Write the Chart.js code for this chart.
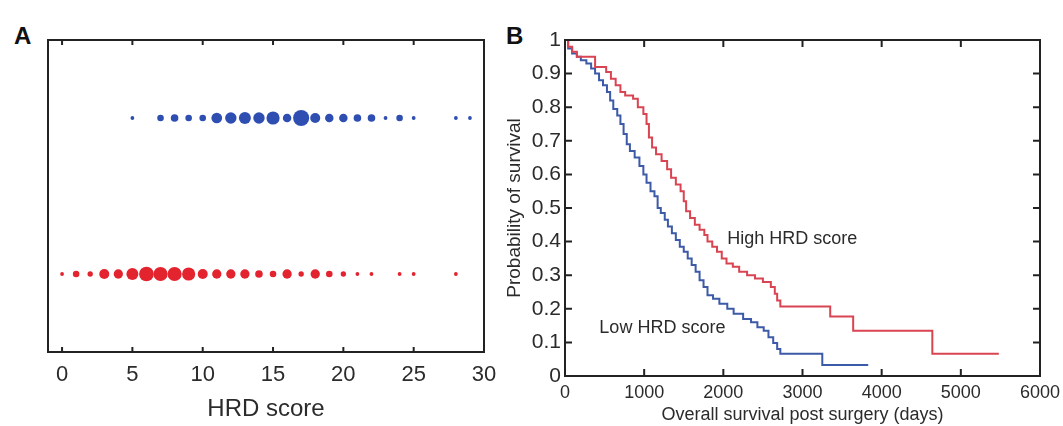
<!DOCTYPE html>
<html>
<head>
<meta charset="utf-8">
<title>HRD score</title>
<script src="https://cdn.jsdelivr.net/npm/chart.js@4.4.1/dist/chart.umd.min.js"></script>
<style>
  body { margin: 0; background: #fff; width: 1063px; height: 426px; position: relative; overflow: hidden;
         font-family: "Liberation Sans", Arial, Helvetica, sans-serif; }
  canvas { position: absolute; top: 0; }
  #chartA { left: 0; }
  #chartB { left: 500px; }
  .panel { position: absolute; top: 24px; font-weight: bold; font-size: 24px; line-height: 1; color: #111; }
</style>
</head>
<body>
<div class="panel" style="left:14px">A</div>
<div class="panel" style="left:506px">B</div>
<canvas id="chartA" width="500" height="426"></canvas>
<canvas id="chartB" width="563" height="426"></canvas>
<script>
// Panel A - HRD score distribution (bubble size ~ number of samples)
const topScores = [5, 7, 8, 9, 10, 11, 12, 13, 14, 15, 16, 17, 18, 19, 20, 21, 22, 23, 24, 25, 28, 29];
const topCounts = [1, 3, 4, 3, 3, 8, 9, 10, 9, 12, 5, 18, 7, 5, 5, 4, 4, 1, 3, 1, 1, 1];
const bottomScores = [0, 1, 2, 3, 4, 5, 6, 7, 8, 9, 10, 11, 12, 13, 14, 15, 16, 17, 18, 19, 20, 21, 22, 24, 25, 28];
const bottomCounts = [1, 3, 2, 7, 6, 10, 15, 14, 14, 12, 7, 6, 6, 6, 4, 3, 6, 2, 6, 3, 2, 1, 1, 1, 1, 1];
const hrdTicks = [0, 5, 10, 15, 20, 25, 30];

// Panel B - Kaplan-Meier curves (days, survival probability)
const highDays = [0, 40, 90, 150, 380, 520, 580, 640, 700, 760, 860, 920, 990, 1030, 1060, 1100, 1150, 1220, 1290,
  1340, 1400, 1460, 1500, 1530, 1580, 1640, 1700, 1760, 1800, 1860, 1920, 1980, 2040, 2120, 2200, 2300, 2400,
  2500, 2600, 2650, 2680, 2720, 3350, 3640, 4640, 5480];
const highSurv = [1, 0.98, 0.965, 0.95, 0.92, 0.905, 0.885, 0.865, 0.845, 0.835, 0.825, 0.8, 0.78, 0.75, 0.71, 0.68,
  0.66, 0.64, 0.615, 0.59, 0.57, 0.55, 0.52, 0.49, 0.47, 0.45, 0.435, 0.42, 0.4, 0.385, 0.37, 0.35, 0.335, 0.325,
  0.31, 0.3, 0.29, 0.28, 0.265, 0.245, 0.225, 0.207, 0.177, 0.135, 0.066, 0.066];
const lowDays = [0, 40, 90, 150, 200, 270, 330, 380, 430, 480, 530, 570, 610, 660, 700, 740, 780, 820, 880, 940, 990,
  1030, 1080, 1130, 1170, 1210, 1260, 1300, 1350, 1400, 1450, 1500, 1550, 1600, 1650, 1700, 1750, 1800, 1870, 1950,
  2050, 2130, 2250, 2350, 2430, 2510, 2570, 2630, 2680, 2720, 3250, 3830];
const lowSurv = [1, 0.975, 0.96, 0.95, 0.94, 0.93, 0.915, 0.9, 0.88, 0.865, 0.845, 0.82, 0.795, 0.775, 0.75, 0.72,
  0.69, 0.67, 0.65, 0.625, 0.6, 0.575, 0.55, 0.535, 0.5, 0.485, 0.465, 0.445, 0.425, 0.405, 0.385, 0.37, 0.35, 0.33,
  0.31, 0.285, 0.265, 0.24, 0.23, 0.215, 0.2, 0.185, 0.17, 0.16, 0.145, 0.135, 0.115, 0.098, 0.08, 0.066, 0.033, 0.033];
const dayTicks = [0, 1000, 2000, 3000, 4000, 5000, 6000];
const survTicks = [0, 0.1, 0.2, 0.3, 0.4, 0.5, 0.6, 0.7, 0.8, 0.9, 1];

const FONT = '"Liberation Sans", Arial, Helvetica, sans-serif';
const INK = '#2b2b2b';

// box round the plot area with ticks pointing inward
const framePlugin = {
    id: 'frame',
    afterDraw(chart, args, opts) {
        const { ctx, chartArea: a, scales } = chart;
        const len = opts.tickLen || 6;
        ctx.save();
        ctx.strokeStyle = '#222';
        ctx.lineWidth = 2;
        ctx.strokeRect(a.left, a.top, a.right - a.left, a.bottom - a.top);
        ctx.beginPath();
        scales.x.ticks.forEach(t => {
            const px = scales.x.getPixelForValue(t.value);
            ctx.moveTo(px, a.bottom); ctx.lineTo(px, a.bottom - len);
            ctx.moveTo(px, a.top); ctx.lineTo(px, a.top + len);
        });
        if (opts.yTicks) {
            scales.y.ticks.forEach(t => {
                const py = scales.y.getPixelForValue(t.value);
                ctx.moveTo(a.left, py); ctx.lineTo(a.left + len, py);
                ctx.moveTo(a.right, py); ctx.lineTo(a.right - len, py);
            });
        }
        ctx.stroke();
        ctx.restore();
    }
};

// curve labels placed in data coordinates
const notesPlugin = {
    id: 'notes',
    afterDatasetsDraw(chart, args, opts) {
        const { ctx, scales } = chart;
        ctx.save();
        ctx.fillStyle = INK;
        ctx.font = '18px ' + FONT;
        ctx.textBaseline = 'alphabetic';
        (opts.items || []).forEach(n => {
            ctx.fillText(n.text, scales.x.getPixelForValue(n.x), scales.y.getPixelForValue(n.y));
        });
        ctx.restore();
    }
};

// fixed axis sizes, no extra room for overhanging labels
const fixHeight = h => s => { s.height = h; s.paddingLeft = 0; s.paddingRight = 0; };
const fixWidth = w => s => { s.width = w; s.paddingTop = 0; s.paddingBottom = 0; };

const toBubbles = (scores, counts, row) => scores.map((s, i) => ({ x: s, y: row, r: 1.9 * Math.sqrt(counts[i]) }));

new Chart(document.getElementById('chartA'), {
    type: 'bubble',
    data: {
        datasets: [
            { data: toBubbles(topScores, topCounts, 3), backgroundColor: '#2e4eb2', borderWidth: 0 },
            { data: toBubbles(bottomScores, bottomCounts, 1), backgroundColor: '#e3242f', borderWidth: 0 }
        ]
    },
    options: {
        responsive: false,
        animation: false,
        layout: { padding: { left: 48, right: 16, top: 40, bottom: 0 } },
        plugins: { legend: { display: false }, tooltip: { enabled: false }, frame: { tickLen: 5 } },
        scales: {
            x: {
                type: 'linear', min: -1, max: 30,
                afterBuildTicks: s => { s.ticks = hrdTicks.map(v => ({ value: v })); },
                afterFit: fixHeight(74),
                grid: { display: false, drawTicks: false },
                border: { display: false },
                ticks: { color: INK, padding: 10, font: { family: FONT, size: 22 }, callback: v => String(v) },
                title: { display: true, text: 'HRD score', color: INK, padding: { top: 0, bottom: 2 },
                         font: { family: FONT, size: 24 } }
            },
            y: { display: false, min: 0, max: 4 }
        }
    },
    plugins: [framePlugin]
});

const toPoints = (days, surv) => days.map((d, i) => ({ x: d, y: surv[i] }));

new Chart(document.getElementById('chartB'), {
    type: 'line',
    data: {
        datasets: [
            { data: toPoints(highDays, highSurv), borderColor: '#d94452', borderWidth: 2, stepped: 'before', pointRadius: 0 },
            { data: toPoints(lowDays, lowSurv), borderColor: '#3c5aa8', borderWidth: 2, stepped: 'before', pointRadius: 0 }
        ]
    },
    options: {
        responsive: false,
        animation: false,
        layout: { padding: { left: 0, right: 23, top: 40, bottom: 0 } },
        plugins: {
            legend: { display: false }, tooltip: { enabled: false },
            frame: { tickLen: 7, yTicks: true },
            notes: { items: [
                { text: 'High HRD score', x: 2050, y: 0.394 },
                { text: 'Low HRD score', x: 434, y: 0.127 }
            ] }
        },
        scales: {
            x: {
                type: 'linear', min: 0, max: 6000,
                afterBuildTicks: s => { s.ticks = dayTicks.map(v => ({ value: v })); },
                afterFit: fixHeight(50),
                grid: { display: false, drawTicks: false },
                border: { display: false },
                ticks: { color: INK, padding: 6, maxRotation: 0, font: { family: FONT, size: 18 }, callback: v => String(v) },
                title: { display: true, text: 'Overall survival post surgery (days)', color: INK,
                         padding: { top: 0, bottom: 0 }, font: { family: FONT, size: 18 } }
            },
            y: {
                type: 'linear', min: 0, max: 1,
                afterBuildTicks: s => { s.ticks = survTicks.map(v => ({ value: v })); },
                afterFit: fixWidth(65),
                grid: { display: false, drawTicks: false },
                border: { display: false },
                ticks: { color: INK, padding: 4, font: { family: FONT, size: 21 },
                         callback: v => String(Math.round(v * 10) / 10) },
                title: { display: true, text: 'Probability of survival', color: INK,
                         padding: { top: 3, bottom: 0 }, font: { family: FONT, size: 19 } }
            }
        }
    },
    plugins: [framePlugin, notesPlugin]
});
</script>
</body>
</html>
